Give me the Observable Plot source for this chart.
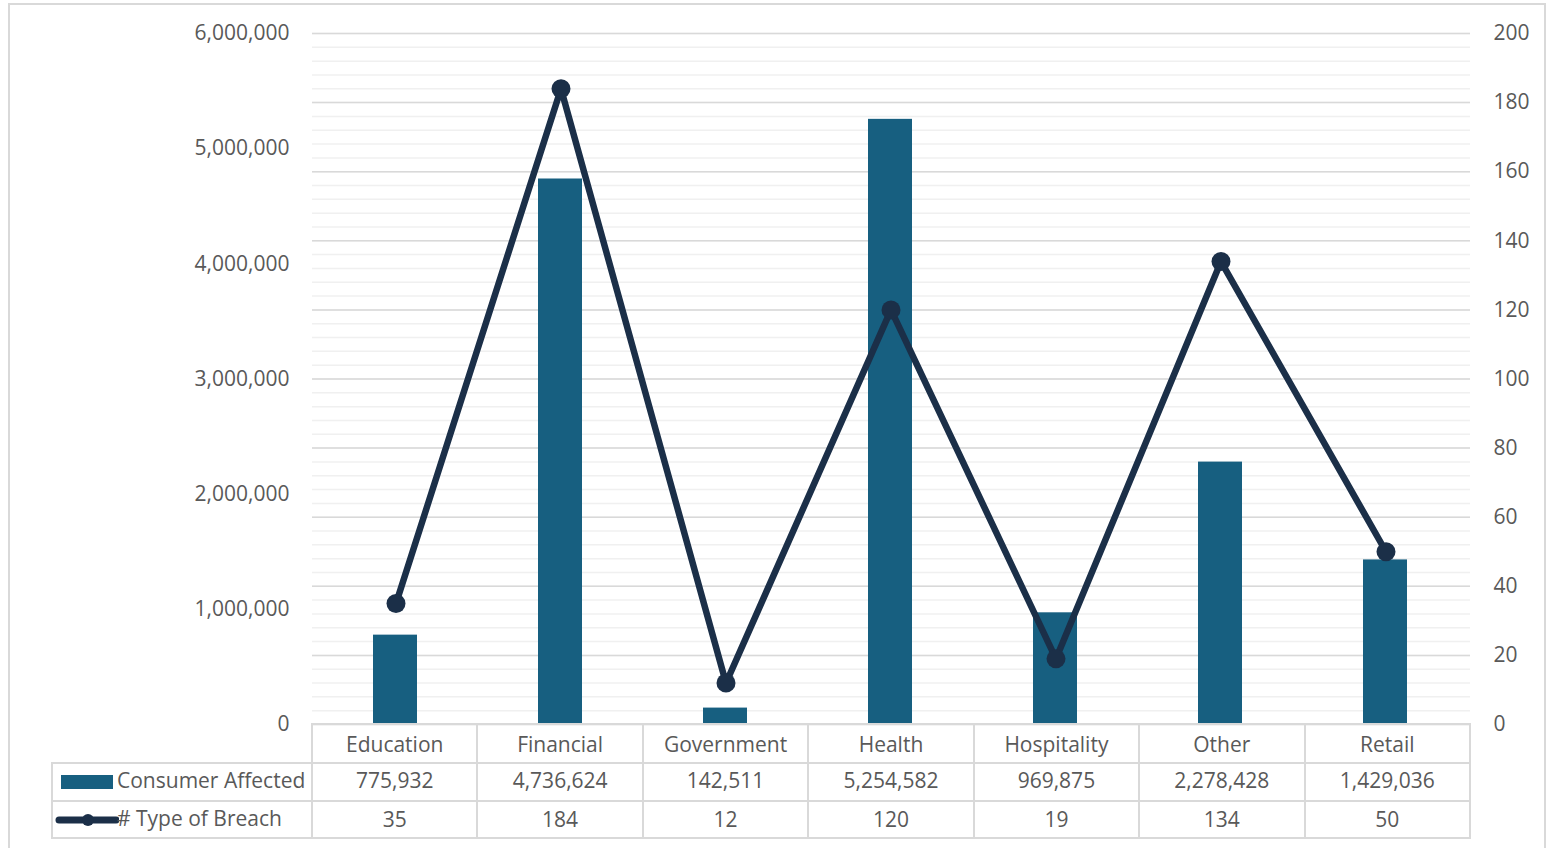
<!DOCTYPE html>
<html>
<head>
<meta charset="utf-8">
<script src="https://cdn.jsdelivr.net/npm/d3@7"></script>
<script src="https://cdn.jsdelivr.net/npm/@observablehq/plot@0.6"></script>
<style>
  html, body { margin: 0; padding: 0; background: #fff; }
  #wrap { position: relative; width: 1552px; height: 848px; overflow: hidden; font-family: "Open Sans", sans-serif; color: #595959; }
  #frame { position: absolute; left: 8px; top: 3px; width: 1538px; height: 860px; border: 2px solid #d9d9d9; box-sizing: border-box; }
  #chart { position: absolute; left: 0; top: 0; }
  #tbl { position: absolute; left: 51px; top: 723px; border-collapse: collapse; table-layout: fixed; font-size: 21px; color: #595959; }
  #tbl td { border: 2px solid #d9d9d9; text-align: center; padding: 0; white-space: nowrap; overflow: visible; line-height: 24px; vertical-align: middle; }
  #tbl tr.h td { height: 37px; }
  #tbl tr.r1 td { height: 36px; }
  #tbl tr.r2 td { height: 35px; }
  #tbl tr.r1 td span.v { position: relative; top: -2px; }
  #tbl tr.r2 td span.v { position: relative; top: -1px; }
  #tbl td.blank { border: none; }
  #tbl td.leg { text-align: left; position: relative; }
  .sw { position: absolute; top: 50%; transform: translateY(-50%); }
  .lt { position: absolute; top: 50%; transform: translateY(-58%); }
</style>
</head>
<body>
<div id="wrap">
  <div id="frame"></div>
  <div id="chart"></div>
</div>
<script>
const categories = ["Education", "Financial", "Government", "Health", "Hospitality", "Other", "Retail"];
const consumerAffected = [775932, 4736624, 142511, 5254582, 969875, 2278428, 1429036];
const typeOfBreach = [35, 184, 12, 120, 19, 134, 50];
const leftTicks = [0, 1000000, 2000000, 3000000, 4000000, 5000000, 6000000];
const rightTicks = [0, 20, 40, 60, 80, 100, 120, 140, 160, 180, 200];
const seriesNames = ["Consumer Affected", "# Type of Breach"];

const barColor = "#175f80";
const lineColor = "#1b2f48";
const ratio = 6000000 / 200; // secondary axis -> primary axis units

const data = categories.map((c, i) => ({cat: c, consumers: consumerAffected[i], breach: typeOfBreach[i], breachScaled: typeOfBreach[i] * ratio}));

const majorGrid = rightTicks.map(v => v * ratio);
const minorGrid = d3.range(0, 201, 4).map(v => v * ratio);
const fmt = d3.format(",");

const chart = Plot.plot({
  width: 1552,
  height: 740,
  marginLeft: 312,
  marginRight: 82,
  marginTop: 33,
  marginBottom: 16,
  style: {fontFamily: "Open Sans, sans-serif", fontSize: "21px", color: "#595959", background: "transparent", overflow: "visible"},
  x: {domain: categories, padding: 0, axis: null},
  y: {domain: [0, 6000000], axis: null},
  marks: [
    Plot.ruleY(minorGrid, {stroke: "#f0f0f0", strokeWidth: 1.5}),
    Plot.ruleY(majorGrid, {stroke: "#d9d9d9", strokeWidth: 1.5}),
    Plot.axisY(leftTicks, {anchor: "left", tickSize: 0, tickPadding: 23, tickFormat: fmt, fontSize: 21, fill: "#595959", label: null}),
    Plot.axisY(majorGrid, {anchor: "right", tickSize: 0, tickPadding: 23, tickFormat: d => String(Math.round(d / ratio)), fontSize: 21, fill: "#595959", label: null}),
    Plot.barY(data, {x: "cat", y: "consumers", fill: barColor, insetLeft: 60, insetRight: 61, dx: -1}),
    Plot.line(data, {x: "cat", y: "breachScaled", stroke: lineColor, strokeWidth: 6.5, strokeLinejoin: "round", dx: -1}),
    Plot.dot(data, {x: "cat", y: "breachScaled", r: 9.5, fill: lineColor, stroke: "none", dx: -1})
  ]
});
document.getElementById("chart").appendChild(chart);

// data table below the plot
const bandW = (1552 - 312 - 82) / categories.length;
const tbl = document.createElement("table");
tbl.id = "tbl";
const colgroup = document.createElement("colgroup");
const c0 = document.createElement("col"); c0.style.width = (312 - 52) + "px"; colgroup.appendChild(c0);
categories.forEach(() => { const c = document.createElement("col"); c.style.width = bandW + "px"; colgroup.appendChild(c); });
tbl.appendChild(colgroup);

const hr = document.createElement("tr"); hr.className = "h";
const blank = document.createElement("td"); blank.className = "blank"; hr.appendChild(blank);
categories.forEach(c => { const td = document.createElement("td"); td.textContent = c; hr.appendChild(td); });
tbl.appendChild(hr);

function valueCell(text) {
  const td = document.createElement("td");
  const s = document.createElement("span"); s.className = "v"; s.textContent = text;
  td.appendChild(s);
  return td;
}

const r1 = document.createElement("tr"); r1.className = "r1";
const l1 = document.createElement("td"); l1.className = "leg";
l1.innerHTML = `<svg class="sw" width="56" height="16" style="left:7px"><rect x="1" y="1" width="52" height="14" fill="${barColor}"/></svg><span class="lt" style="left:64px">${seriesNames[0]}</span>`;
r1.appendChild(l1);
consumerAffected.forEach(v => r1.appendChild(valueCell(fmt(v))));
tbl.appendChild(r1);

const r2 = document.createElement("tr"); r2.className = "r2";
const l2 = document.createElement("td"); l2.className = "leg";
l2.innerHTML = `<svg class="sw" width="64" height="16" style="left:2px"><line x1="4" y1="8" x2="61" y2="8" stroke="${lineColor}" stroke-width="7" stroke-linecap="round"/><circle cx="33" cy="8" r="6" fill="${lineColor}"/></svg><span class="lt" style="left:64px">${seriesNames[1]}</span>`;
r2.appendChild(l2);
typeOfBreach.forEach(v => r2.appendChild(valueCell(String(v))));
tbl.appendChild(r2);

document.getElementById("wrap").appendChild(tbl);
</script>
</body>
</html>
